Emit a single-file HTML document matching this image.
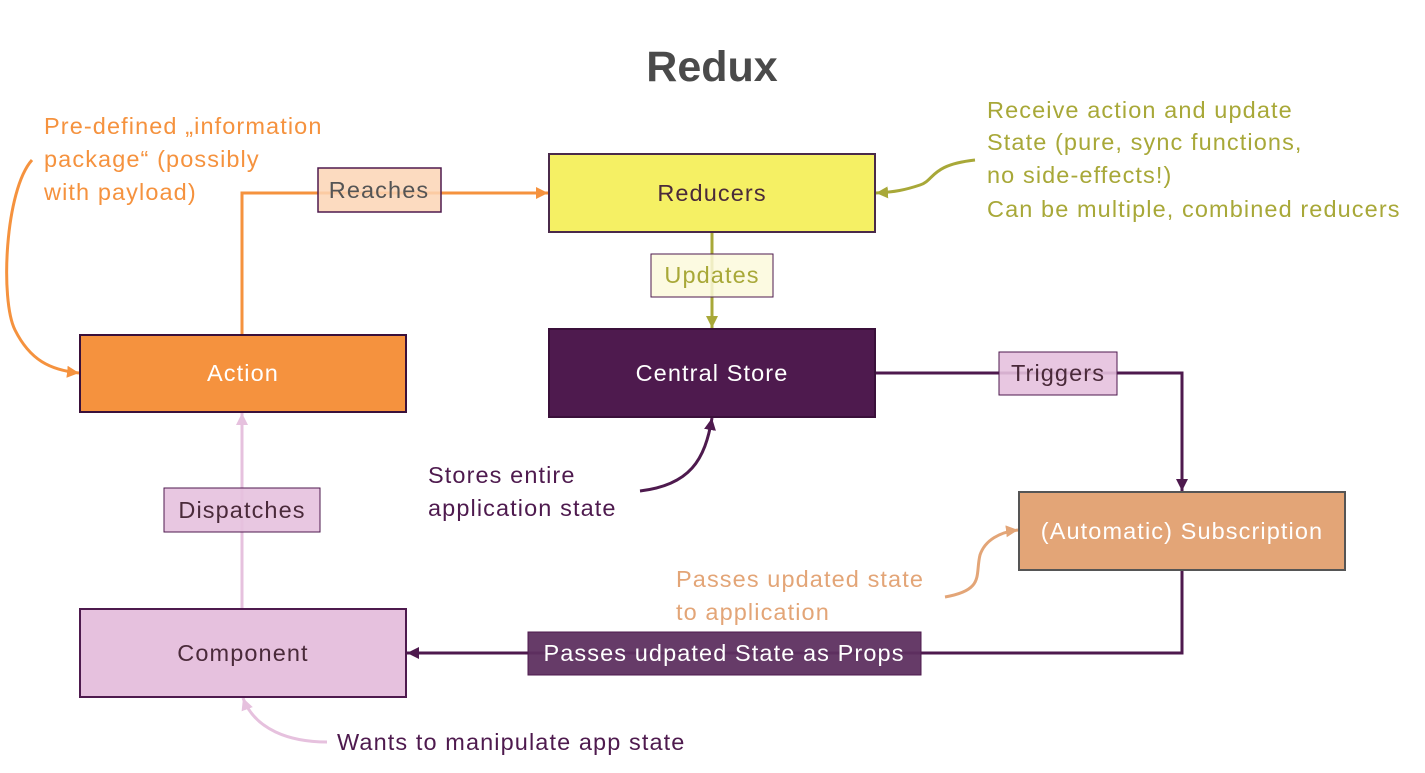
<!DOCTYPE html>
<html><head><meta charset="utf-8"><style>
html,body{margin:0;padding:0;background:#fff;}
svg{display:block;font-family:"Liberation Sans",sans-serif;}
.t{font-size:23.5px;letter-spacing:1.1px;}
</style></head><body>
<svg width="1425" height="773" viewBox="0 0 1425 773" xmlns="http://www.w3.org/2000/svg">
<defs>
<marker id="ao" markerWidth="14" markerHeight="14" refX="12" refY="6" orient="auto" markerUnits="userSpaceOnUse"><path d="M0,0 L12,6 L0,12 z" fill="#f5923e"/></marker>
<marker id="ay" markerWidth="14" markerHeight="14" refX="12" refY="6" orient="auto" markerUnits="userSpaceOnUse"><path d="M0,0 L12,6 L0,12 z" fill="#a8a838"/></marker>
<marker id="ap" markerWidth="14" markerHeight="14" refX="12" refY="6" orient="auto" markerUnits="userSpaceOnUse"><path d="M0,0 L12,6 L0,12 z" fill="#4e1a4e"/></marker>
<marker id="ak" markerWidth="14" markerHeight="14" refX="12" refY="6" orient="auto" markerUnits="userSpaceOnUse"><path d="M0,0 L12,6 L0,12 z" fill="#e6c1de"/></marker>
<marker id="ae" markerWidth="14" markerHeight="14" refX="12" refY="6" orient="auto" markerUnits="userSpaceOnUse"><path d="M0,0 L12,6 L0,12 z" fill="#e3a577"/></marker>
</defs>
<text x="712" y="81" text-anchor="middle" font-size="43" font-weight="bold" fill="#4a4a4a">Redux</text>

<path d="M242,335 V193 H548" fill="none" stroke="#f5923e" stroke-width="3" marker-end="url(#ao)"/>
<path d="M712,232 V328" fill="none" stroke="#a8a838" stroke-width="3" marker-end="url(#ay)"/>
<path d="M875,373 H1182 V491" fill="none" stroke="#4e1a4e" stroke-width="3" marker-end="url(#ap)"/>
<path d="M1182,570 V653 H407" fill="none" stroke="#4e1a4e" stroke-width="3" marker-end="url(#ap)"/>
<path d="M242,609 V413" fill="none" stroke="#e6c1de" stroke-width="3" marker-end="url(#ak)"/>

<path d="M32,160 C5,190 0,300 15,330 C30,360 50,370 79,373" fill="none" stroke="#f5923e" stroke-width="3" marker-end="url(#ao)"/>
<path d="M975,160 C930,165 935,180 920,185 C905,190 895,192 876,193" fill="none" stroke="#a8a838" stroke-width="3" marker-end="url(#ay)"/>
<path d="M640,491 C690,485 705,460 712,418" fill="none" stroke="#4e1a4e" stroke-width="3" marker-end="url(#ap)"/>
<path d="M945,597 C985,590 975,575 980,555 C985,540 1000,532 1018,530" fill="none" stroke="#e3a577" stroke-width="3" marker-end="url(#ae)"/>
<path d="M327,742 C290,742 255,730 243,698" fill="none" stroke="#e6c1de" stroke-width="3" marker-end="url(#ak)"/>

<rect x="549" y="154" width="326" height="78" fill="#f5f064" stroke="#4a2a4a" stroke-width="2"/>
<text class="t" x="712" y="201" text-anchor="middle" fill="#4a2a3a">Reducers</text>
<rect x="549" y="329" width="326" height="88" fill="#4e1a4e" stroke="#3a103a" stroke-width="2"/>
<text class="t" x="712" y="381" text-anchor="middle" fill="#fff">Central Store</text>
<rect x="80" y="335" width="326" height="77" fill="#f5923e" stroke="#3a103a" stroke-width="2"/>
<text class="t" x="243" y="381" text-anchor="middle" fill="#fff">Action</text>
<rect x="80" y="609" width="326" height="88" fill="#e6c1de" stroke="#4e1a4e" stroke-width="2"/>
<text class="t" x="243" y="661" text-anchor="middle" fill="#4a2a3a">Component</text>
<rect x="1019" y="492" width="326" height="78" fill="#e3a577" stroke="#555" stroke-width="2"/>
<text class="t" x="1182" y="539" text-anchor="middle" fill="#fff">(Automatic) Subscription</text>

<rect x="318" y="168" width="123" height="44" fill="#fcd5b5" fill-opacity="0.85" stroke="#4e1a4e" stroke-width="1.5"/>
<text class="t" x="379" y="198" text-anchor="middle" fill="#555">Reaches</text>
<rect x="651" y="254" width="122" height="43" fill="#fcf9dc" fill-opacity="0.85" stroke="#4e1a4e" stroke-width="1"/>
<text class="t" x="712" y="283" text-anchor="middle" fill="#a8a838">Updates</text>
<rect x="999" y="352" width="118" height="43" fill="#e6c1de" fill-opacity="0.9" stroke="#4e1a4e" stroke-width="1"/>
<text class="t" x="1058" y="381" text-anchor="middle" fill="#4a2a3a">Triggers</text>
<rect x="164" y="488" width="156" height="44" fill="#e6c1de" fill-opacity="0.9" stroke="#4e1a4e" stroke-width="1"/>
<text class="t" x="242" y="518" text-anchor="middle" fill="#4a2a3a">Dispatches</text>
<rect x="528" y="632" width="393" height="43" fill="#5e3060" fill-opacity="0.95" stroke="#4e1a4e" stroke-width="1"/>
<text class="t" x="724" y="661" text-anchor="middle" fill="#fff">Passes udpated State as Props</text>

<g class="t" fill="#f5923e">
<text x="44" y="134">Pre-defined „information</text>
<text x="44" y="167">package“ (possibly</text>
<text x="44" y="200">with payload)</text>
</g>
<g class="t" fill="#a8a838">
<text x="987" y="118">Receive action and update</text>
<text x="987" y="150">State (pure, sync functions,</text>
<text x="987" y="183">no side-effects!)</text>
<text x="987" y="217">Can be multiple, combined reducers</text>
</g>
<g class="t" fill="#4e1a4e">
<text x="428" y="483">Stores entire</text>
<text x="428" y="516">application state</text>
<text x="337" y="750">Wants to manipulate app state</text>
</g>
<g class="t" fill="#e3a577">
<text x="676" y="587">Passes updated state</text>
<text x="676" y="620">to application</text>
</g>
</svg>
</body></html>
